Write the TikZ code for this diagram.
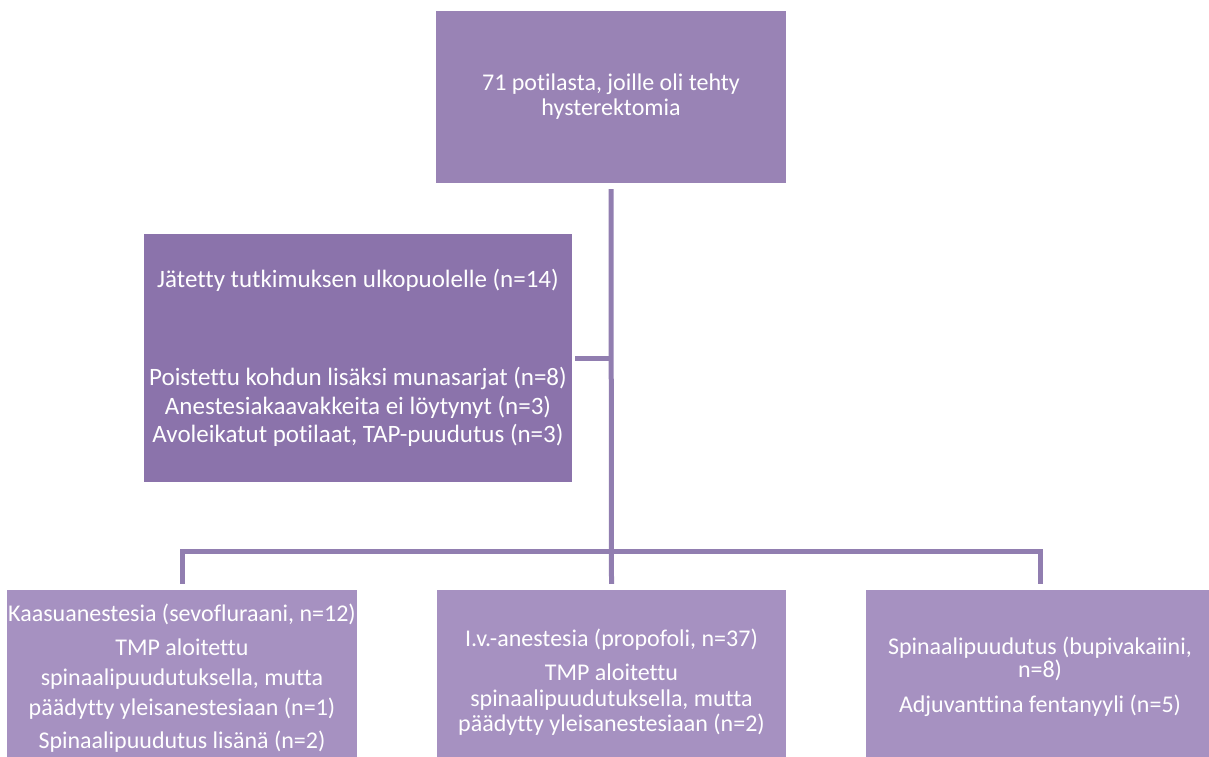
\documentclass[tikz,border=0pt]{standalone}
\usepackage{fontspec}
\setmainfont{Carlito}[Ligatures=NoCommon]
\definecolor{topFill}{HTML}{9983B5}
\definecolor{exclFill}{HTML}{8B73AB}
\definecolor{groupFill}{HTML}{A691C1}
\definecolor{linkColor}{HTML}{917EB0}
\begin{document}
\begin{tikzpicture}
[x=1pt,y=-1pt,
  boxDecorate/.style={shape=rectangle,inner xsep=0pt,inner ysep=0pt,align=center,text=white},
  linkDecorate/.style={-,line width=5pt,draw=linkColor}]
\useasboundingbox (0,0) rectangle (1209,756);
%% boxes
\node (top) at (611,97) [boxDecorate,fill=topFill,minimum width=350pt,minimum height=172pt,
  font=\fontsize{24}{25}\selectfont]
  {71 potilasta, joille oli tehty\\hysterektomia};
\node (excl) at (358,358) [boxDecorate,fill=exclFill,minimum width=428pt,minimum height=248pt,
  font=\fontsize{25}{28.5}\selectfont]
  {Jätetty tutkimuksen ulkopuolelle (n=14)\\[69.5pt]
   Poistettu kohdun lisäksi munasarjat (n=8)\\
   Anestesiakaavakkeita ei löytynyt (n=3)\\
   Avoleikatut potilaat, TAP-puudutus (n=3)};
\node (g1) at (182,678) [boxDecorate,fill=groupFill,minimum width=350pt,minimum height=176pt,
  font=\fontsize{24}{30}\selectfont]
  {Kaasuanestesia (sevofluraani, n=12)\\[4pt]
   TMP aloitettu\\ spinaalipuudutuksella, mutta\\ päädytty yleisanestesiaan (n=1)\\[3pt]
   Spinaalipuudutus lisänä (n=2)};
\node (g2) at (611.5,682.5) [boxDecorate,fill=groupFill,minimum width=349pt,minimum height=185pt,
  font=\fontsize{24}{25.5}\selectfont]
  {I.v.-anestesia (propofoli, n=37)\\[8.5pt]
   TMP aloitettu\\ spinaalipuudutuksella, mutta\\ päädytty yleisanestesiaan (n=2)};
\node (g3) at (1040,677) [boxDecorate,fill=groupFill,minimum width=349pt,minimum height=174pt,
  font=\fontsize{24}{23.5}\selectfont]
  {Spinaalipuudutus (bupivakaiini,\\ n=8)\\[11.5pt]
   Adjuvanttina fentanyyli (n=5)};
%% connectors
\coordinate (hub) at (611,551);
\draw[linkDecorate] ([yshift=-6pt]top.south) -- ([yshift=6pt]g2.north);
\draw[linkDecorate] ([xshift=3pt]excl.east) -- (excl.east -| top.south);
\draw[linkDecorate] ([yshift=6pt]g1.north) |- (hub) -| ([yshift=6pt]g3.north);
\end{tikzpicture}
\end{document}
